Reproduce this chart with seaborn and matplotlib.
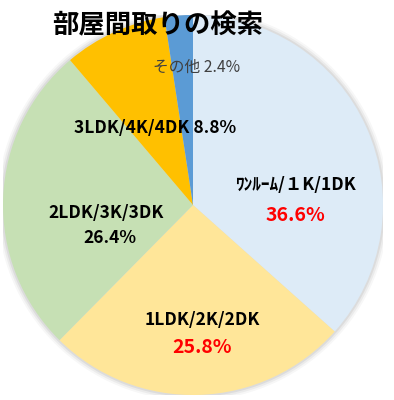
import matplotlib
matplotlib.use("Agg")
import matplotlib.pyplot as plt
import seaborn as sns

# 間取りのデータ
categories = ["ﾜﾝﾙｰﾑ/１K/1DK", "1LDK/2K/2DK", "2LDK/3K/3DK", "3LDK/4K/4DK", "その他"]
shares = [36.6, 25.8, 26.4, 8.8, 2.4]
colors = ["#DDEBF7", "#FFE699", "#C6E0B4", "#FFC000", "#5B9BD5"]

sns.set_theme(style="white")
plt.rcParams["font.family"] = ["Noto Sans CJK JP", "DejaVu Sans"]

fig = plt.figure(figsize=(3.94, 4.0), dpi=100)
ax = fig.add_axes([3 / 394, 5 / 400, 380 / 394, 380 / 400])

# うっすら影
for r, a in [(1.03, 0.08), (1.02, 0.12), (1.01, 0.18)]:
    ax.add_patch(plt.Circle((0, 0), r, color="#9a9a9a", alpha=a, lw=0, zorder=0))

ax.pie(shares, colors=colors, startangle=90, counterclock=False,
       wedgeprops=dict(linewidth=0), radius=1.0)

# ラベル
lab = dict(ha="center", va="center", fontsize=12.5, fontweight="bold", color="black")
red = dict(ha="center", va="center", fontsize=14, fontweight="bold", color="#FF0000")
ax.text(0.54, 0.105, categories[0], **lab)
ax.text(0.54, -0.055, f"{shares[0]}%", **red)
ax.text(0.05, -0.605, categories[1], **lab)
ax.text(0.05, -0.75, f"{shares[1]}%", **red)
ax.text(-0.46, -0.04, categories[2], **lab)
ax.text(-0.44, -0.175, f"{shares[2]}%", **lab)
ax.text(-0.2, 0.405, f"{categories[3]} {shares[3]}%", **lab)
ax.text(0.02, 0.725, f"{categories[4]} {shares[4]}%", ha="center", va="center",
        fontsize=11.3, color="#404040")

ax.set_xlim(-1, 1)
ax.set_ylim(-1, 1)
ax.set_aspect("equal")
ax.axis("off")

fig.text(158 / 394, 1 - 26 / 400, "部屋間取りの検索", ha="center", va="center",
         fontsize=19, fontweight="bold", color="black")

fig.savefig("out.png", dpi=100, facecolor="white")
